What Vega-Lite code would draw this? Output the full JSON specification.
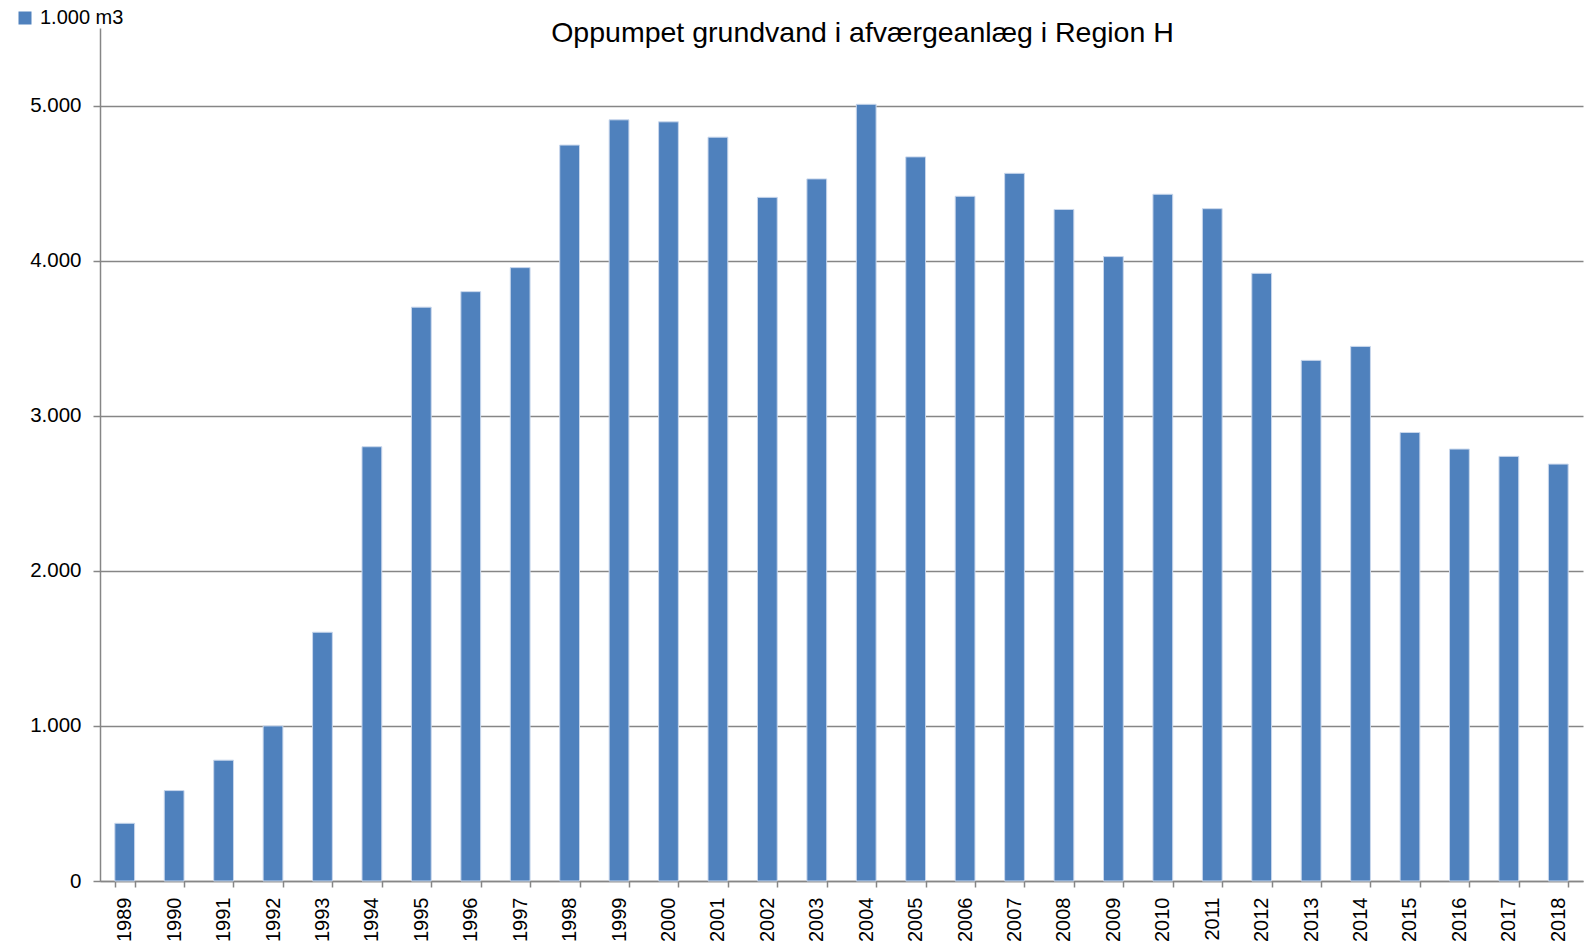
{
  "$schema": "https://vega.github.io/schema/vega-lite/v6.json",
  "width": 1483,
  "height": 853,
  "autosize": "none",
  "padding": {"left": 100, "top": 28, "right": 7, "bottom": 63},
  "background": "white",
  "title": {
    "text": "Oppumpet grundvand i afværgeanlæg i Region H",
    "font": "Liberation Sans",
    "fontSize": 28.5,
    "fontWeight": "normal",
    "color": "#000000",
    "anchor": "middle",
    "frame": "group",
    "dx": 21,
    "offset": -39
  },
  "data": {
    "values": [
      {"year": "1989", "value": 372, "series": "1.000 m3"},
      {"year": "1990", "value": 583, "series": "1.000 m3"},
      {"year": "1991", "value": 779, "series": "1.000 m3"},
      {"year": "1992", "value": 1000, "series": "1.000 m3"},
      {"year": "1993", "value": 1604, "series": "1.000 m3"},
      {"year": "1994", "value": 2800, "series": "1.000 m3"},
      {"year": "1995", "value": 3700, "series": "1.000 m3"},
      {"year": "1996", "value": 3800, "series": "1.000 m3"},
      {"year": "1997", "value": 3955, "series": "1.000 m3"},
      {"year": "1998", "value": 4745, "series": "1.000 m3"},
      {"year": "1999", "value": 4908, "series": "1.000 m3"},
      {"year": "2000", "value": 4895, "series": "1.000 m3"},
      {"year": "2001", "value": 4796, "series": "1.000 m3"},
      {"year": "2002", "value": 4408, "series": "1.000 m3"},
      {"year": "2003", "value": 4527, "series": "1.000 m3"},
      {"year": "2004", "value": 5008, "series": "1.000 m3"},
      {"year": "2005", "value": 4669, "series": "1.000 m3"},
      {"year": "2006", "value": 4415, "series": "1.000 m3"},
      {"year": "2007", "value": 4563, "series": "1.000 m3"},
      {"year": "2008", "value": 4330, "series": "1.000 m3"},
      {"year": "2009", "value": 4026, "series": "1.000 m3"},
      {"year": "2010", "value": 4428, "series": "1.000 m3"},
      {"year": "2011", "value": 4335, "series": "1.000 m3"},
      {"year": "2012", "value": 3918, "series": "1.000 m3"},
      {"year": "2013", "value": 3357, "series": "1.000 m3"},
      {"year": "2014", "value": 3447, "series": "1.000 m3"},
      {"year": "2015", "value": 2892, "series": "1.000 m3"},
      {"year": "2016", "value": 2785, "series": "1.000 m3"},
      {"year": "2017", "value": 2738, "series": "1.000 m3"},
      {"year": "2018", "value": 2688, "series": "1.000 m3"}
    ]
  },
  "mark": {"type": "bar", "stroke": "#c9d7ec", "strokeWidth": 1},
  "encoding": {
    "x": {
      "field": "year",
      "type": "nominal",
      "sort": null,
      "scale": {"paddingInner": 0.6, "paddingOuter": 0.3},
      "axis": {
        "title": null,
        "labelAngle": 270,
        "labelAlign": "right",
        "labelBaseline": "middle",
        "labelFont": "Liberation Sans",
        "labelFontSize": 20,
        "labelColor": "#000000",
        "labelPadding": 10,
        "tickBand": "extent",
        "tickSize": 6,
        "tickColor": "#868686",
        "tickWidth": 1.5,
        "domainColor": "#868686",
        "domainWidth": 1.5,
        "grid": false
      }
    },
    "y": {
      "field": "value",
      "type": "quantitative",
      "scale": {"domain": [0, 5500], "nice": false},
      "axis": {
        "title": null,
        "values": [0, 1000, 2000, 3000, 4000, 5000],
        "labelExpr": "replace(format(datum.value, ','), ',', '.')",
        "labelFont": "Liberation Sans",
        "labelFontSize": 20.5,
        "labelColor": "#000000",
        "labelPadding": 12,
        "tickSize": 7,
        "tickColor": "#868686",
        "tickWidth": 1.5,
        "domainColor": "#868686",
        "domainWidth": 1.5,
        "grid": true,
        "gridColor": "#868686",
        "gridWidth": 1.5,
        "gridOpacity": 1
      }
    },
    "color": {
      "field": "series",
      "type": "nominal",
      "scale": {"range": ["#4F81BD"]},
      "legend": {
        "title": null,
        "orient": "none",
        "legendX": -85,
        "legendY": -20,
        "symbolType": "square",
        "symbolSize": 169,
        "symbolStrokeWidth": 0,
        "labelFont": "Liberation Sans",
        "labelFontSize": 20,
        "labelColor": "#000000",
        "labelOffset": 5,
        "padding": 0
      }
    }
  },
  "config": {
    "view": {"stroke": null}
  }
}
